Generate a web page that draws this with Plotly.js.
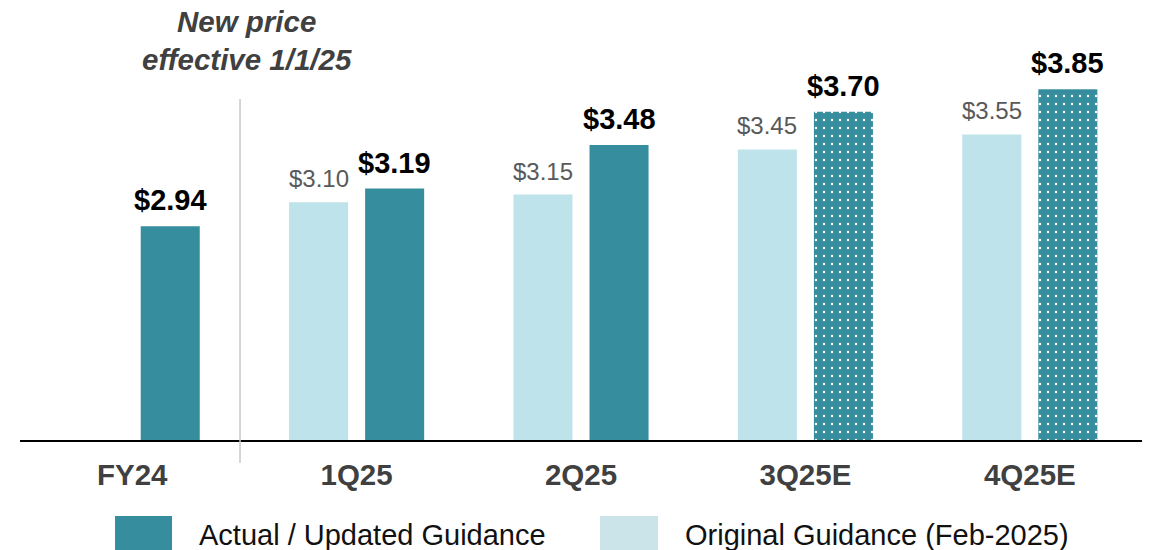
<!DOCTYPE html>
<html><head><meta charset="utf-8">
<script src="https://cdn.plot.ly/plotly-3.0.1.min.js"></script>
<style>html,body{margin:0;padding:0;background:#fff}#chart{width:1152px;height:550px}</style>
</head><body><div id="chart"></div>
<script>
const categories = ['FY24', '1Q25', '2Q25', '3Q25E', '4Q25E'];
const originalGuidance = [null, 3.10, 3.15, 3.45, 3.55];
const actualUpdated = [2.94, 3.19, 3.48, 3.70, 3.85];
const isEstimate = [false, false, false, true, true];
const seriesNames = ['Actual / Updated Guidance', 'Original Guidance (Feb-2025)'];
const noteText = 'New price<br>effective 1/1/25';

const DARK = '#368d9e';
const LIGHT = '#bee3ea';
const FONT = 'Liberation Sans, Arial, sans-serif';

const traces = [
  {
    type: 'bar', name: seriesNames[1], x: categories, y: originalGuidance,
    marker: {color: LIGHT}, hoverinfo: 'skip'
  },
  {
    type: 'bar', name: seriesNames[0], x: categories, y: actualUpdated,
    marker: {
      color: DARK,
      pattern: {
        shape: isEstimate.map(e => e ? '.' : ''),
        fgcolor: '#ffffff', bgcolor: DARK, size: 8, solidity: 0.07, fillmode: 'replace'
      }
    },
    hoverinfo: 'skip'
  }
];

const annotations = [];
categories.forEach((c, i) => {
  if (originalGuidance[i] != null) {
    annotations.push({
      x: c, y: originalGuidance[i], xref: 'x', yref: 'y', xshift: -38, yshift: 8,
      yanchor: 'bottom', showarrow: false,
      text: '$' + originalGuidance[i].toFixed(2),
      font: {family: FONT, size: 24, color: '#595959'}
    });
  }
  annotations.push({
    x: c, y: actualUpdated[i], xref: 'x', yref: 'y', xshift: 38, yshift: 8,
    yanchor: 'bottom', showarrow: false,
    text: '$' + actualUpdated[i].toFixed(2),
    font: {family: FONT, size: 29, color: '#000000', weight: 700}
  });
});
annotations.push({
  x: 0.2023, y: 0.952, xref: 'paper', yref: 'paper', showarrow: false,
  xanchor: 'center', yanchor: 'middle', text: noteText, align: 'center',
  font: {family: FONT, size: 29.5, color: '#404040', weight: 700, style: 'italic'}
});
annotations.push({
  x: 0.1578, y: -0.226, xref: 'paper', yref: 'paper', showarrow: false,
  xanchor: 'left', yanchor: 'middle', text: seriesNames[0],
  font: {family: FONT, size: 29, color: '#111111'}
});
annotations.push({
  x: 0.5909, y: -0.226, xref: 'paper', yref: 'paper', showarrow: false,
  xanchor: 'left', yanchor: 'middle', text: seriesNames[1],
  font: {family: FONT, size: 29, color: '#111111'}
});

const shapes = [
  {type: 'line', xref: 'paper', yref: 'paper', x0: 0.1961, x1: 0.1961, y0: 0.812, y1: -0.055,
   line: {color: '#c8c8c8', width: 1.5}},
  {type: 'rect', xref: 'paper', yref: 'paper', x0: 0.0847, x1: 0.1355, y0: -0.181, y1: -0.27,
   fillcolor: DARK, line: {width: 0}},
  {type: 'rect', xref: 'paper', yref: 'paper', x0: 0.5169, x1: 0.5686, y0: -0.181, y1: -0.27,
   fillcolor: '#cbe4e9', line: {width: 0}}
];

const layout = {
  width: 1152, height: 550,
  margin: {l: 20, r: 10, t: 20, b: 110},
  paper_bgcolor: '#ffffff', plot_bgcolor: '#ffffff',
  barmode: 'group', bargap: 0.322, bargroupgap: 0.224,
  showlegend: false,
  font: {family: FONT},
  xaxis: {
    type: 'category', showline: true, linecolor: '#000000', linewidth: 2,
    ticks: '', showgrid: false, zeroline: false,
    tickfont: {family: FONT, size: 29.5, color: '#404040', weight: 700},
    ticklabelstandoff: 8
  },
  yaxis: {
    range: [1.52, 4.31], showgrid: false, zeroline: false, showticklabels: false,
    showline: false, ticks: ''
  },
  annotations: annotations,
  shapes: shapes
};

Plotly.newPlot('chart', traces, layout, {displayModeBar: false, staticPlot: true});
</script>
</body></html>
